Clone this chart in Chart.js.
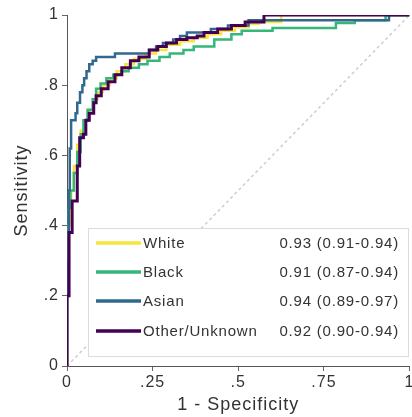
<!DOCTYPE html>
<html><head><meta charset="utf-8">
<script src="https://cdn.jsdelivr.net/npm/chart.js@4.4.1/dist/chart.umd.min.js"></script>
<style>
html,body{margin:0;padding:0;background:#fff;overflow:hidden;width:412px;height:417px;}
#wrap{position:absolute;left:0;top:0;width:416px;height:417px;}
</style></head>
<body><div id="wrap"><canvas id="c"></canvas></div>
<script>
const groupLabels = ['White', 'Black', 'Asian', 'Other/Unknown'];
const aucLabels = ['0.93 (0.91-0.94)', '0.91 (0.87-0.94)', '0.94 (0.89-0.97)', '0.92 (0.90-0.94)'];
const xTickLabels = ['0', '.25', '.5', '.75', '1'];
const yTickLabels = ['0', '.2', '.4', '.6', '.8', '1'];

const whiteFpr = [0, 0, 0.005, 0.012, 0.02, 0.03, 0.04, 0.05, 0.065, 0.078, 0.09, 0.105, 0.125, 0.145, 0.17, 0.195, 0.23, 0.26, 0.29, 0.33, 0.37, 0.41, 0.45, 0.49, 0.53, 0.56, 0.625, 1];
const whiteTpr = [0, 0.2, 0.4, 0.5, 0.57, 0.63, 0.67, 0.70, 0.73, 0.76, 0.78, 0.80, 0.82, 0.84, 0.86, 0.875, 0.89, 0.90, 0.915, 0.925, 0.935, 0.945, 0.955, 0.965, 0.975, 0.98, 1, 1];

const blackFpr = [0, 0, 0.005, 0.01, 0.02, 0.03, 0.04, 0.048, 0.06, 0.075, 0.085, 0.098, 0.115, 0.135, 0.16, 0.18, 0.21, 0.235, 0.27, 0.30, 0.34, 0.37, 0.43, 0.48, 0.51, 0.60, 0.785, 0.84, 0.93, 1];
const blackTpr = [0, 0.25, 0.45, 0.5, 0.55, 0.61, 0.66, 0.70, 0.73, 0.76, 0.79, 0.805, 0.82, 0.83, 0.84, 0.85, 0.86, 0.87, 0.88, 0.89, 0.90, 0.91, 0.93, 0.945, 0.955, 0.963, 0.977, 0.985, 1, 1];

const asianFpr = [0, 0, 0.005, 0.008, 0.012, 0.025, 0.03, 0.038, 0.045, 0.05, 0.057, 0.065, 0.075, 0.085, 0.14, 0.24, 0.26, 0.28, 0.31, 0.33, 0.35, 0.42, 0.47, 0.53, 0.94, 1];
const asianTpr = [0, 0.3, 0.5, 0.62, 0.70, 0.72, 0.75, 0.78, 0.80, 0.82, 0.84, 0.86, 0.87, 0.88, 0.89, 0.90, 0.91, 0.92, 0.93, 0.94, 0.95, 0.96, 0.97, 0.985, 1, 1];

const otherFpr = [0, 0, 0.006, 0.015, 0.03, 0.037, 0.048, 0.055, 0.065, 0.078, 0.085, 0.1, 0.12, 0.14, 0.16, 0.185, 0.21, 0.24, 0.265, 0.29, 0.32, 0.35, 0.38, 0.40, 0.44, 0.48, 0.52, 0.575, 1];
const otherTpr = [0, 0.2, 0.38, 0.47, 0.57, 0.65, 0.66, 0.70, 0.72, 0.75, 0.77, 0.79, 0.81, 0.83, 0.85, 0.87, 0.88, 0.90, 0.91, 0.92, 0.93, 0.935, 0.94, 0.95, 0.96, 0.97, 0.98, 1, 1];

const refX = [0, 1];
const refY = [0, 1];

const colors = ['#f7e43c', '#35b779', '#31688e', '#440154'];
const widths = [2.5, 2.5, 2.5, 3];

function pts(xs, ys) { return xs.map((x, i) => ({x: x, y: ys[i]})); }

const series = [pts(whiteFpr, whiteTpr), pts(blackFpr, blackTpr), pts(asianFpr, asianTpr), pts(otherFpr, otherTpr)];

const FONT = '"Liberation Sans", Arial, Helvetica, sans-serif';
const TXT = '#333333';

const datasets = [{
  label: 'ref', data: pts(refX, refY), borderColor: '#cdcdcd', borderWidth: 1.5,
  borderDash: [3, 3], pointRadius: 0, order: 10, showLine: true, fill: false
}];
series.forEach((d, i) => {
  datasets.push({
    label: groupLabels[i], data: d, borderColor: colors[i], borderWidth: widths[i],
    pointRadius: 0, stepped: 'before', order: 4 - i, showLine: true, fill: false
  });
});

const legendPlugin = {
  id: 'rocLegend',
  afterDraw(chart) {
    const ctx = chart.ctx;
    ctx.save();
    const bx = 88, by = 228, bw = 320, bh = 128;
    ctx.fillStyle = '#ffffff';
    ctx.fillRect(bx, by, bw, bh);
    ctx.strokeStyle = '#dcdcdc';
    ctx.lineWidth = 1;
    ctx.strokeRect(bx + 0.5, by + 0.5, bw, bh);
    const rows = [243, 272, 301, 331];
    ctx.letterSpacing = '0.8px';
    ctx.font = '15px ' + FONT;
    ctx.textBaseline = 'middle';
    for (let i = 0; i < groupLabels.length; i++) {
      ctx.strokeStyle = colors[i];
      ctx.lineWidth = 3.5;
      ctx.beginPath();
      ctx.moveTo(96, rows[i]);
      ctx.lineTo(141, rows[i]);
      ctx.stroke();
      ctx.fillStyle = TXT;
      ctx.textAlign = 'left';
      ctx.fillText(groupLabels[i], 143, rows[i] + 1);
      ctx.textAlign = 'right';
      ctx.fillText(aucLabels[i], 399, rows[i] + 1);
    }
    ctx.restore();
  }
};

const spacingPlugin = {
  id: 'spacing',
  beforeDraw(chart) { chart.ctx.letterSpacing = '1px'; }
};

new Chart(document.getElementById('c'), {
  type: 'scatter',
  data: { datasets: datasets },
  plugins: [spacingPlugin, legendPlugin],
  options: {
    responsive: true, maintainAspectRatio: false, animation: false,
    layout: { padding: { left: 0, right: 2, top: 15, bottom: 0 } },
    plugins: { legend: { display: false }, tooltip: { enabled: false } },
    scales: {
      x: {
        type: 'linear', min: 0, max: 1,
        afterBuildTicks(s) { s.ticks = xTickLabels.map((t, i) => ({ value: i * 0.25 })); },
        afterFit(s) { s.height = 51; },
        ticks: {
          callback(v, i) { return xTickLabels[i]; },
          font: { family: FONT, size: 16 }, color: TXT, padding: 2, maxRotation: 0, autoSkip: false
        },
        grid: { display: true, drawOnChartArea: false, drawTicks: true, tickLength: 5, color: '#666666', lineWidth: 1 },
        border: { display: true, color: '#555555', width: 1 },
        title: { display: true, text: '1 - Specificity', font: { family: FONT, size: 18 }, color: TXT, padding: { top: 0, bottom: 1 } }
      },
      y: {
        type: 'linear', min: 0, max: 1,
        afterBuildTicks(s) { s.ticks = yTickLabels.map((t, i) => ({ value: i * 0.2 })); },
        afterFit(s) { s.width = 67; },
        ticks: {
          callback(v, i) { return yTickLabels[i]; },
          font: { family: FONT, size: 16 }, color: TXT, padding: 3, autoSkip: false
        },
        grid: { display: true, drawOnChartArea: false, drawTicks: true, tickLength: 5, color: '#666666', lineWidth: 1 },
        border: { display: true, color: '#555555', width: 1 },
        title: { display: true, text: 'Sensitivity', font: { family: FONT, size: 18 }, color: TXT, padding: { top: 11, bottom: 0 } }
      }
    }
  }
});
</script>
</body></html>
